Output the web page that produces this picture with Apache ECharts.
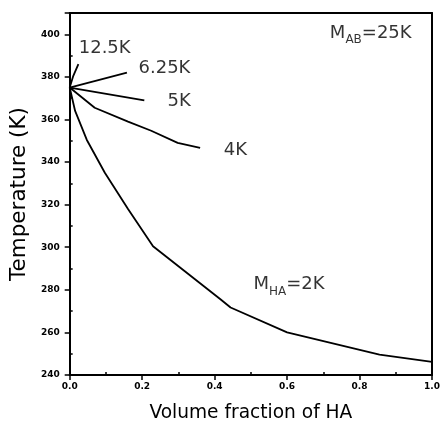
<!DOCTYPE html>
<html>
<head>
<meta charset="utf-8">
<script src="https://cdn.jsdelivr.net/npm/echarts@6/dist/echarts.min.js"></script>
<style>
    html, body { margin: 0; padding: 0; background: #fff; }
    #chart { width: 443px; height: 428px; }
</style>
</head>
<body>
<div id="chart"></div>
<script>
// curves: [volume fraction of HA, temperature K]
const curve12_5K = [[0, 375], [0.01, 380.5], [0.024, 386]];
const curve6_25K = [[0, 375], [0.158, 382]];
const curve5K = [[0, 375], [0.206, 369]];
const curve4K = [[0, 375], [0.069, 365.5], [0.161, 359], [0.225, 354.7], [0.298, 349], [0.36, 346.7]];
const curve2K = [
    [0, 375], [0.015, 364], [0.047, 350.5], [0.097, 335], [0.161, 318], [0.23, 300.5],
    [0.416, 275.6], [0.444, 271.7], [0.6, 260], [0.855, 249.6], [1.0, 246.2]
];

// annotations: text and where its left edge / middle sits in data space
const annoText = ['12.5K', '6.25K', '5K', '4K', '{m|M}{s|HA}{m|=2K}', '{m|M}{s|AB}{m|=25K}'];
const annoPos = [[0.025, 393.5], [0.19, 384], [0.27, 368.5], [0.425, 345.7], [0.507, 281.5], [0.718, 399.5]];

const xTicks = { min: 0, max: 1, interval: 0.2 };
const yTicks = { min: 240, max: 410, interval: 20 };

const chart = echarts.init(document.getElementById('chart'));

const font = 'DejaVu Sans';
const black = '#000';

const lineSeries = (data) => ({
    type: 'line',
    data: data,
    showSymbol: false,
    smooth: false,
    lineStyle: { color: black, width: 1.8 },
    silent: true
});

chart.setOption({
    animation: false,
    grid: { left: 68, right: 10, top: 13, bottom: 48 },
    xAxis: [
        {
            type: 'value',
            min: xTicks.min,
            max: xTicks.max,
            interval: xTicks.interval,
            position: 'bottom',
            name: 'Volume fraction of HA',
            nameLocation: 'middle',
            nameGap: 29,
            nameTextStyle: { fontFamily: font, fontSize: 18.6, color: black },
            axisLine: { onZero: false, lineStyle: { color: black, width: 2 } },
            axisTick: { length: 5, lineStyle: { color: black, width: 1.5 } },
            minorTick: { show: true, splitNumber: 2, length: -3, lineStyle: { color: black, width: 1.5 } },
            axisLabel: {
                fontFamily: font,
                fontWeight: 'bold',
                fontSize: 9,
                color: black,
                margin: 7,
                formatter: (v) => v.toFixed(1)
            },
            splitLine: { show: false }
        },
        {
            type: 'value',
            min: xTicks.min,
            max: xTicks.max,
            position: 'top',
            axisLine: { onZero: false, lineStyle: { color: black, width: 2 } },
            axisTick: { show: false },
            axisLabel: { show: false },
            splitLine: { show: false }
        }
    ],
    yAxis: [
        {
            type: 'value',
            min: yTicks.min,
            max: yTicks.max,
            interval: yTicks.interval,
            position: 'left',
            name: 'Temperature (K)',
            nameLocation: 'middle',
            nameGap: 37,
            nameTextStyle: { fontFamily: font, fontSize: 21.5, color: black },
            axisLine: { onZero: false, lineStyle: { color: black, width: 2 } },
            axisTick: { length: 5, lineStyle: { color: black, width: 1.5 } },
            minorTick: { show: true, splitNumber: 2, length: -3, lineStyle: { color: black, width: 1.5 } },
            axisLabel: {
                fontFamily: font,
                fontWeight: 'bold',
                fontSize: 9,
                color: black,
                margin: 10,
                formatter: (v) => (v % 20 === 0 ? String(v) : '')
            },
            splitLine: { show: false }
        },
        {
            type: 'value',
            min: yTicks.min,
            max: yTicks.max,
            position: 'right',
            axisLine: { onZero: false, lineStyle: { color: black, width: 2 } },
            axisTick: { show: false },
            axisLabel: { show: false },
            splitLine: { show: false }
        }
    ],
    series: [
        lineSeries(curve12_5K),
        lineSeries(curve6_25K),
        lineSeries(curve5K),
        lineSeries(curve4K),
        lineSeries(curve2K),
        {
            type: 'scatter',
            symbolSize: 0,
            silent: true,
            data: annoPos.map((p, i) => ({ value: p, name: annoText[i] })),
            label: {
                show: true,
                position: 'right',
                distance: 0,
                color: black,
                fontFamily: font,
                fontSize: 18,
                formatter: (p) => p.name,
                rich: {
                    m: { fontFamily: font, fontSize: 18, color: black, verticalAlign: 'top' },
                    s: { fontFamily: font, fontSize: 12, color: black, padding: [10, 0, 0, 0] }
                }
            }
        }
    ]
});
</script>
</body>
</html>
